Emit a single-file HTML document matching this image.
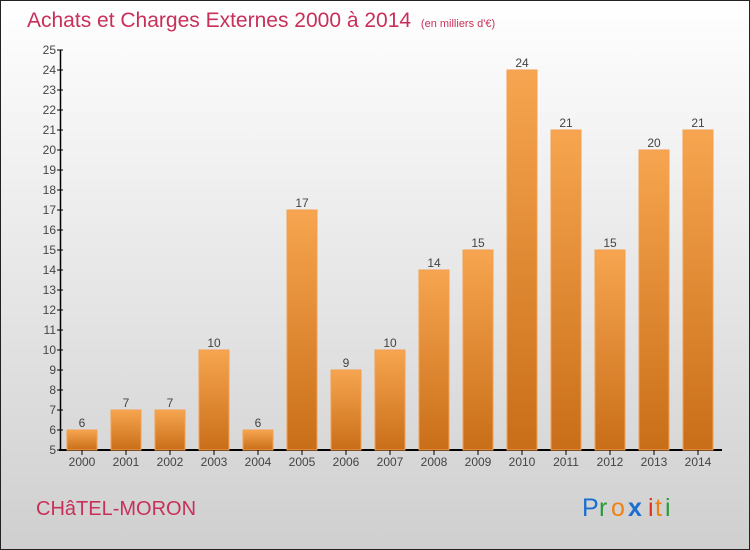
<!DOCTYPE html>
<html><head><meta charset="utf-8"><style>
body{margin:0}
svg{display:block;font-family:"Liberation Sans","DejaVu Sans",sans-serif}
</style></head><body>
<svg id="c" width="750" height="550" viewBox="0 0 750 550">
<defs>
<linearGradient id="bg" x1="0" y1="0" x2="0" y2="1"><stop offset="0" stop-color="#ffffff"/><stop offset="1" stop-color="#cfcfcf"/></linearGradient>
<linearGradient id="bar" x1="0" y1="0" x2="0" y2="1"><stop offset="0" stop-color="#f7a550"/><stop offset="1" stop-color="#c96e18"/></linearGradient>
</defs>
<rect x="0.5" y="0.5" width="749" height="549" fill="url(#bg)" stroke="#222"/>
<text x="27" y="27" font-size="21" fill="#c8305a">Achats et Charges Externes 2000 à 2014 <tspan font-size="11" dx="4">(en milliers d'€)</tspan></text>
<g id="plot"></g>
<text x="36" y="515" font-size="20" fill="#c8305a">CHâTEL-MORON</text>
<g font-size="25" font-family="Liberation Sans, sans-serif">
<text x="582" y="516" fill="#1a6fd0">P</text><text x="599" y="516" fill="#2a9a3a">r</text><text x="611" y="516" fill="#f08010">o</text><text x="628" y="516" fill="#1a6fd0" font-weight="bold">x</text><text x="648" y="516" fill="#e03020">i</text><text x="655" y="516" fill="#f08010">t</text><text x="665" y="516" fill="#2a9a3a">i</text>
</g>
</svg>
<script>
const categories=["2000","2001","2002","2003","2004","2005","2006","2007","2008","2009","2010","2011","2012","2013","2014"];
const values=[6,7,7,10,6,17,9,10,14,15,24,21,15,20,21];
const yTicks=[5,6,7,8,9,10,11,12,13,14,15,16,17,18,19,20,21,22,23,24,25];
const NS="http://www.w3.org/2000/svg";
const g=document.getElementById("plot");
const y=v=>450-(v-5)*20;
const x=i=>82+i*44;
function mk(t,a,txt){const e=document.createElementNS(NS,t);for(const k in a)e.setAttribute(k,a[k]);if(txt!==undefined)e.textContent=txt;g.appendChild(e);return e;}
let ax=mk("line",{x1:60.5,y1:50,x2:60.5,y2:450,stroke:"#000","stroke-width":1.5});


let bx=mk("line",{x1:59,y1:450,x2:722,y2:450,stroke:"#000","stroke-width":2});


yTicks.forEach(t=>{
 mk("line",{x1:57,y1:y(t),x2:63,y2:y(t),stroke:"#000"});
 const l=mk("text",{x:56,y:y(t)+4,"font-size":12,"text-anchor":"end",fill:"#444"},t);
 
 
});
categories.forEach((c,i)=>{
 const v=values[i];
 const r=mk("rect",{x:x(i)-15,y:y(v),width:30,height:450-y(v),fill:"url(#bar)",stroke:"#f3a050","stroke-width":1});
 
 
 const vl=mk("text",{x:x(i),y:y(v)-3,"font-size":12,"text-anchor":"middle",fill:"#444"},v);
 
 
 mk("line",{x1:x(i),y1:450,x2:x(i),y2:455,stroke:"#000"});
 const xl=mk("text",{x:x(i),y:466,"font-size":12,"text-anchor":"middle",fill:"#444"},c);
 
 
});
</script>
</body></html>
